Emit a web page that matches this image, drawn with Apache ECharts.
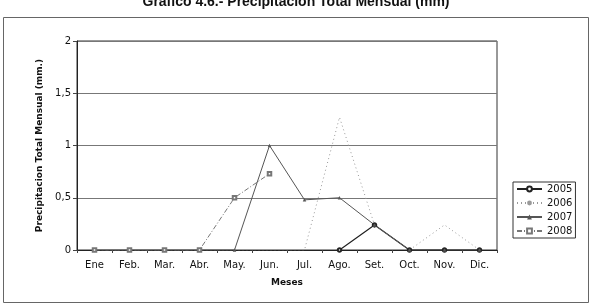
<!DOCTYPE html>
<html>
<head>
<meta charset="utf-8">
<script src="https://cdn.jsdelivr.net/npm/echarts@6/dist/echarts.min.js"></script>
<style>
html,body{margin:0;padding:0;background:#fff;}
#c{width:592px;height:306px;}
</style>
</head>
<body>
<div id="c"></div>
<script>
var categories = ['Ene','Feb.','Mar.','Abr.','May.','Jun.','Jul.','Ago.','Set.','Oct.','Nov.','Dic.'];
var s2005 = [null,null,null,null,null,null,null,0,0.24,0,0,0];
var s2006 = [0,0,0,0,0,0,0,1.27,0.24,0,0.24,0];
var s2007 = [0,0,0,0,0,1.0,0.48,0.5,0.24,0,0,0];
var s2008 = [0,0,0,0,0.5,0.73,null,null,null,null,null,null];
var yTicks = [0,0.5,1,1.5,2];

var chart = echarts.init(document.getElementById('c'), null, {renderer:'canvas'});
var font = 'DejaVu Sans';
chart.setOption({
  animation:false,
  backgroundColor:'#fff',
  title:{
    text:'Grafico 4.6.- Precipitacion Total Mensual (mm)',
    left:'center', top:-10,
    textStyle:{fontFamily:'Liberation Sans', fontWeight:'bold', fontSize:14, color:'#111'}
  },
  graphic:[
    {type:'rect', shape:{x:3.5,y:17.5,width:585,height:285}, style:{fill:'none', stroke:'#666', lineWidth:1}, z:-1}
  ],
  grid:{left:77, right:95, top:41, bottom:56, show:true, borderColor:'#333', borderWidth:1},
  legend:{
    orient:'vertical', left:513, top:182,
    itemWidth:25, itemHeight:6, itemGap:4,
    borderColor:'#333', borderWidth:1, padding:[2,3,2,3],
    textStyle:{fontFamily:font, fontSize:10, color:'#111'},
    data:['2005','2006','2007','2008']
  },
  xAxis:{
    type:'category', data:categories, boundaryGap:true,
    name:'Meses', nameLocation:'middle', nameGap:28,
    nameTextStyle:{fontFamily:font, fontWeight:'bold', fontSize:9, color:'#111'},
    axisLine:{lineStyle:{color:'#222', width:1}},
    axisTick:{show:true, length:3, lineStyle:{color:'#444'}},
    axisLabel:{fontFamily:font, fontSize:10, color:'#111', margin:10},
    splitLine:{show:false}
  },
  yAxis:{
    type:'value', min:0, max:2, interval:0.5,
    name:'Precipitacion Total Mensual (mm.)', nameLocation:'middle', nameGap:31,
    nameTextStyle:{fontFamily:font, fontWeight:'bold', fontSize:9, color:'#111'},
    axisLine:{show:true, lineStyle:{color:'#222', width:1}},
    axisTick:{show:true, length:4, lineStyle:{color:'#444'}},
    axisLabel:{fontFamily:font, fontSize:10, color:'#111', margin:6,
      formatter:function(v){return String(v).replace('.',',');}},
    splitLine:{show:true, lineStyle:{color:'#777', width:1}}
  },
  series:[
    {name:'2005', type:'line', data:s2005, symbol:'emptyCircle', symbolSize:3.5,
     lineStyle:{color:'#222', width:1.2}, itemStyle:{color:'#222', borderWidth:1}},
    {name:'2006', type:'line', data:s2006, symbol:'none', symbolSize:3,
     lineStyle:{color:'#999', width:1, type:[1,3]}, itemStyle:{color:'#999'}},
    {name:'2007', type:'line', data:s2007, symbol:'triangle', symbolSize:3.5,
     lineStyle:{color:'#555', width:1}, itemStyle:{color:'#555'}},
    {name:'2008', type:'line', data:s2008, symbol:'emptyRect', symbolSize:3.5,
     lineStyle:{color:'#777', width:1, type:[5,2,1,2]}, itemStyle:{color:'#777', borderWidth:1}}
  ]
});
</script>
</body>
</html>
